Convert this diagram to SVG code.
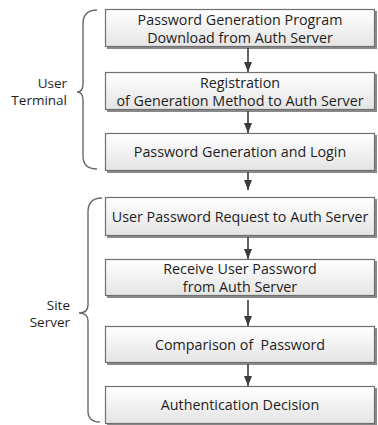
<svg xmlns="http://www.w3.org/2000/svg" width="378" height="425" viewBox="0 0 378 425">
<defs>
<linearGradient id="g" x1="0" y1="0" x2="0" y2="1">
<stop offset="0" stop-color="#ffffff"/>
<stop offset="1" stop-color="#e4e4e4"/>
</linearGradient>
<marker id="ah" markerWidth="10" markerHeight="8" refX="10" refY="4" orient="auto" markerUnits="userSpaceOnUse" viewBox="0 0 10 8">
<path d="M0,0 L10,4 L0,8 Z" fill="#3c3c3c"/>
</marker>
</defs>
<style>
.box{fill:url(#g);stroke:#707070;stroke-width:1.2}
.sh{fill:#8a8a8a}
.t{font-family:"Open Sans","Liberation Sans",sans-serif;font-size:14.3px;fill:#1e1e1e;text-anchor:middle;white-space:pre}
.lbl{font-family:"Open Sans","Liberation Sans",sans-serif;font-size:13.5px;fill:#1e1e1e;text-anchor:end}
.br{fill:none;stroke:#6a6a6a;stroke-width:1.4}
.ar{stroke:#3c3c3c;stroke-width:1.6;fill:none}
</style>
<g id="n1"><rect class="sh" x="107" y="11" width="270" height="38"/><rect class="box" x="105.5" y="9.5" width="269" height="37"/><text class="t" x="240" y="25">Password Generation Program</text><text class="t" x="240" y="43">Download from Auth Server</text></g>
<g id="n2"><rect class="sh" x="107" y="74" width="270" height="38"/><rect class="box" x="105.5" y="72.5" width="269" height="37"/><text class="t" x="240" y="88">Registration</text><text class="t" x="240" y="106">of Generation Method to Auth Server</text></g>
<g id="n3"><rect class="sh" x="107" y="135" width="270" height="38"/><rect class="box" x="105.5" y="133.5" width="269" height="37"/><text class="t" x="240" y="157">Password Generation and Login</text></g>
<g id="n4"><rect class="sh" x="107" y="199" width="270" height="39"/><rect class="box" x="105.5" y="197.5" width="269" height="38"/><text class="t" x="240" y="221.5">User Password Request to Auth Server</text></g>
<g id="n5"><rect class="sh" x="107" y="261" width="270" height="37"/><rect class="box" x="105.5" y="259.5" width="269" height="36"/><text class="t" x="240" y="274">Receive User Password</text><text class="t" x="240" y="292">from Auth Server</text></g>
<g id="n6"><rect class="sh" x="107" y="328" width="270" height="37"/><rect class="box" x="105.5" y="326.5" width="269" height="36"/><text class="t" x="240" y="349.5" xml:space="preserve">Comparison of  Password</text></g>
<g id="n7"><rect class="sh" x="107" y="388" width="270" height="38"/><rect class="box" x="105.5" y="386.5" width="269" height="37"/><text class="t" x="240" y="410">Authentication Decision</text></g>
<g id="g1"><path class="br" d="M97,10 Q83,10 83,24 V84 Q83,92 77,92 Q83,92 83,100 V156 Q83,169 97,169"/><text class="lbl" x="67" y="88">User</text><text class="lbl" x="67" y="105">Terminal</text></g>
<g id="g2"><path class="br" d="M102,198 Q88,198 88,212 V305 Q88,313 79,313 Q88,313 88,321 V411 Q88,422 100,422"/><text class="lbl" x="70" y="310">Site</text><text class="lbl" x="70" y="327">Server</text></g>
<g id="connectors">
<line class="ar" x1="248" y1="48" x2="248" y2="72" marker-end="url(#ah)"/>
<line class="ar" x1="248" y1="111" x2="248" y2="133" marker-end="url(#ah)"/>
<line class="ar" x1="248" y1="172" x2="248" y2="190" marker-end="url(#ah)"/>
<line class="ar" x1="248" y1="237" x2="248" y2="259" marker-end="url(#ah)"/>
<line class="ar" x1="248" y1="300" x2="248" y2="326" marker-end="url(#ah)"/>
<line class="ar" x1="248" y1="364" x2="248" y2="386" marker-end="url(#ah)"/>
</g>
</svg>
